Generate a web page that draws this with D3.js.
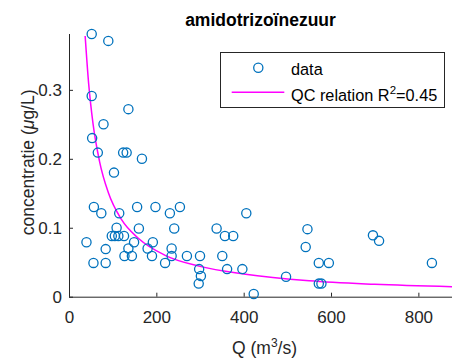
<!DOCTYPE html>
<html>
<head>
<meta charset="utf-8">
<script src="https://cdn.jsdelivr.net/npm/d3@7"></script>
<style>
  html, body { margin: 0; padding: 0; background: #fff; }
  svg { display: block; }
  text { font-family: "Liberation Sans", Arial, sans-serif; }
</style>
</head>
<body>
<svg id="chart" width="452" height="361"></svg>
<script>
// ---- data ----
const chartTitle = "amidotrizoïnezuur";
const dischargeQ = [52, 90, 52, 136, 79, 53, 66, 124, 132, 167, 103,
  57, 74, 115, 156, 198, 231, 254, 406,
  109, 160, 241, 338, 357, 376,
  40, 98, 105, 113, 126, 149, 192,
  84, 136, 180, 235,
  56, 84, 127, 144, 190, 220, 235, 270, 300, 351,
  298, 302, 297, 362, 397, 423,
  546, 542, 572, 595, 696, 710, 831, 497, 572, 578];
const concentration = [0.381, 0.371, 0.291, 0.272, 0.250, 0.230, 0.209, 0.209, 0.209, 0.200, 0.180,
  0.130, 0.121, 0.121, 0.130, 0.130, 0.121, 0.130, 0.121,
  0.100, 0.099, 0.099, 0.099, 0.088, 0.088,
  0.079, 0.088, 0.088, 0.088, 0.088, 0.079, 0.079,
  0.069, 0.070, 0.070, 0.070,
  0.049, 0.049, 0.059, 0.059, 0.059, 0.049, 0.059, 0.059, 0.059, 0.059,
  0.040, 0.030, 0.019, 0.040, 0.040, 0.004,
  0.098, 0.072, 0.049, 0.049, 0.089, 0.081, 0.049, 0.029, 0.019, 0.019];
// QC relation curve
const fitQ = [37, 45, 55, 70, 90, 120, 160, 220, 300, 400, 550, 700, 877];
const fitC = [0.378, 0.309, 0.251, 0.196, 0.151, 0.112, 0.084, 0.060, 0.044, 0.033, 0.023, 0.018, 0.0145];
const xTicks = [0, 200, 400, 600, 800];
const yTicks = [0, 0.1, 0.2, 0.3];
const xDomain = [0, 877];
const yDomain = [0, 0.381];
const legendLabels = ["data", "QC relation R", "2", "=0.45"];

// ---- layout ----
const svg = d3.select("#chart");
const padL = 69, padR = 452, padT = 34, padB = 296.7;
const axisColor = "#262626";
const dataColor = "#0072BD";
const fitColor = "#FF00FF";

const x = d3.scaleLinear().domain(xDomain).range([padL, padR]);
const y = d3.scaleLinear().domain(yDomain).range([padB, padT]);

svg.append("rect").attr("width", 452).attr("height", 361).attr("fill", "#fff");

// clip
svg.append("clipPath").attr("id", "plotClip")
  .append("rect").attr("x", padL).attr("y", padT).attr("width", padR - padL).attr("height", padB - padT);

// title
svg.append("text")
  .attr("x", (padL + padR) / 2).attr("y", 26)
  .attr("text-anchor", "middle")
  .attr("font-size", 17.5).attr("font-weight", "bold").attr("fill", "#000")
  .text(chartTitle);

// axes
const xAxis = d3.axisBottom(x).tickValues(xTicks).tickSize(-4).tickPadding(14)
  .tickFormat(d3.format("d"));
const gx = svg.append("g").attr("transform", `translate(0,${padB})`).call(xAxis);
const yAxis = d3.axisLeft(y).tickValues(yTicks).tickSize(-4).tickPadding(7)
  .tickFormat(d => d === 0 ? "0" : d3.format(".1f")(d));
const gy = svg.append("g").attr("transform", `translate(${padL},0)`).call(yAxis);

[gx, gy].forEach(g => {
  g.select(".domain").attr("stroke", axisColor).attr("stroke-width", 1);
  g.selectAll(".tick line").attr("stroke", axisColor).attr("stroke-width", 1);
  g.selectAll(".tick text").attr("fill", axisColor).attr("font-size", 17)
    .attr("font-family", "Liberation Sans, Arial, sans-serif");
});
gx.select(".domain").attr("d", `M${padL},0.5H${padR}`);
gy.select(".domain").attr("d", `M0.5,${padB}V${padT}`);

// axis labels
const xl = svg.append("text")
  .attr("x", (padL + padR) / 2 + 4).attr("y", 354)
  .attr("text-anchor", "middle").attr("font-size", 17.5).attr("fill", axisColor);
xl.append("tspan").text("Q (m");
xl.append("tspan").attr("dy", -7).attr("font-size", 12).text("3");
xl.append("tspan").attr("dy", 7).text("/s)");

const yl = svg.append("text")
  .attr("transform", `translate(34,${(padT + padB) / 2 - 3}) rotate(-90)`)
  .attr("text-anchor", "middle").attr("font-size", 17.5).attr("fill", axisColor);
yl.append("tspan").text("concentratie (");
yl.append("tspan").attr("font-style", "italic").text("μ");
yl.append("tspan").text("g/L)");

// fit curve
const line = d3.line().x((d, i) => x(fitQ[i])).y((d, i) => y(fitC[i])).curve(d3.curveMonotoneX);
svg.append("path")
  .attr("clip-path", "url(#plotClip)")
  .attr("d", line(fitQ))
  .attr("fill", "none").attr("stroke", fitColor).attr("stroke-width", 1.5);

// data points
svg.append("g").selectAll("circle")
  .data(dischargeQ)
  .join("circle")
  .attr("cx", (d) => x(d))
  .attr("cy", (d, i) => y(concentration[i]))
  .attr("r", 4.6)
  .attr("fill", "none").attr("stroke", dataColor).attr("stroke-width", 1.3);

// legend
const lg = svg.append("g");
lg.append("rect").attr("x", 220.5).attr("y", 52.5).attr("width", 224).attr("height", 55)
  .attr("fill", "#fff").attr("stroke", axisColor).attr("stroke-width", 1);
lg.append("circle").attr("cx", 258.3).attr("cy", 67.7).attr("r", 4.6)
  .attr("fill", "none").attr("stroke", dataColor).attr("stroke-width", 1.3);
lg.append("text").attr("x", 291).attr("y", 74.5).attr("font-size", 16.3).attr("fill", "#000")
  .text(legendLabels[0]);
lg.append("line").attr("x1", 231.7).attr("x2", 284.3).attr("y1", 92.3).attr("y2", 92.3)
  .attr("stroke", fitColor).attr("stroke-width", 1.5);
const lt = lg.append("text").attr("x", 291).attr("y", 100.5).attr("font-size", 16.3).attr("fill", "#000");
lt.append("tspan").text(legendLabels[1]);
lt.append("tspan").attr("dy", -7).attr("font-size", 11.5).text(legendLabels[2]);
lt.append("tspan").attr("dy", 7).text(legendLabels[3]);
</script>
</body>
</html>
